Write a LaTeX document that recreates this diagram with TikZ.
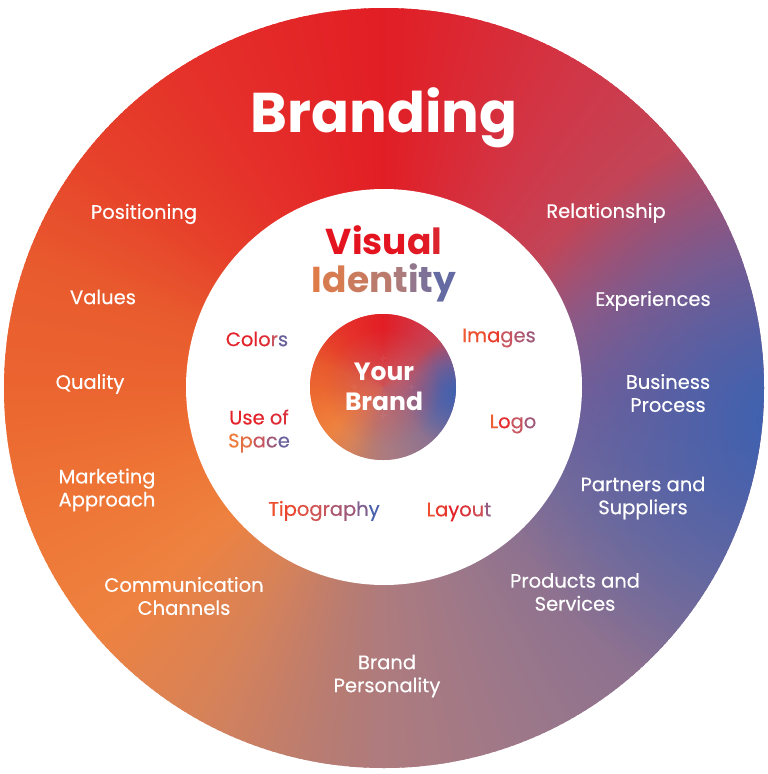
\documentclass[tikz,border=0pt]{standalone}
\usepackage{fontspec}
\setmainfont{Poppins}
\newfontfamily\labfont{Poppins}[FakeBold=0.35]
\usetikzlibrary{fadings}
% conic gradient stops
\definecolor{k000}{HTML}{865C8E}
\definecolor{k020}{HTML}{A0587C}
\definecolor{k040}{HTML}{C24558}
\definecolor{k060}{HTML}{D23545}
\definecolor{k090}{HTML}{E21E25}
\definecolor{k120}{HTML}{E5302A}
\definecolor{k140}{HTML}{E6402A}
\definecolor{k160}{HTML}{E85A2E}
\definecolor{k180}{HTML}{EB6530}
\definecolor{k200}{HTML}{EE7535}
\definecolor{k220}{HTML}{EE8240}
\definecolor{k240}{HTML}{D88258}
\definecolor{k260}{HTML}{B87C72}
\definecolor{k270}{HTML}{AE7B7E}
\definecolor{k290}{HTML}{9E7888}
\definecolor{k310}{HTML}{8E7290}
\definecolor{k330}{HTML}{806C96}
\definecolor{k345}{HTML}{7E6496}
\definecolor{vblue}{HTML}{3A62B2}
\definecolor{vred}{HTML}{E3141F}
\definecolor{vmauve}{HTML}{A07B87}
\definecolor{vorange}{HTML}{EE7B3A}
\definecolor{vcore}{HTML}{CC5A5C}
% text colours
\definecolor{cOr}{HTML}{EE7B3A}
\definecolor{cRO}{HTML}{EC4E2E}
\definecolor{cR}{HTML}{E3222A}
\definecolor{cPk}{HTML}{C8555F}
\definecolor{cMv}{HTML}{A05878}
\definecolor{cPu}{HTML}{80608F}
\definecolor{cBl}{HTML}{4A62AE}
\tikzfading[name=blob, inner color=transparent!0, outer color=transparent!100]
\newcommand\gdisk[4]{%
\begin{scope}[shift={(#1,#2)}, scale=#3/100]
 \begin{scope}
 \clip (0,0) circle[radius=100pt];
 \foreach \a in {0,1,...,359}{
  \foreach \s/\e/\ca/\cb in {0/20/k000/k020,20/40/k020/k040,40/60/k040/k060,60/90/k060/k090,
    90/120/k090/k120,120/140/k120/k140,140/160/k140/k160,160/180/k160/k180,180/200/k180/k200,
    200/220/k200/k220,220/240/k220/k240,240/260/k240/k260,260/270/k260/k270,270/290/k270/k290,
    290/310/k290/k310,310/330/k310/k330,330/345/k330/k345,345/360/k345/k000}{
   \ifnum\a<\s\relax\else\ifnum\a<\e\relax
    \pgfmathtruncatemacro\pp{100*(\e-\a)/(\e-\s)}
    \fill[\ca!\pp!\cb] (0,0) -- (-\a+0.3:106) -- (-\a-1.4:106) -- cycle;
   \fi\fi
  }
 }
 \fill[vblue, path fading=blob] (106,8) circle[radius=76pt];
 \fill[vcore, path fading=blob, opacity=#4] (0,0) circle[radius=80pt];
 \end{scope}
\end{scope}}
\newcommand\gc[2]{\textcolor{#1}{#2}}
\tikzset{
 lbl/.style={text=white, font=\labfont\fontsize{19.5}{23}\selectfont, align=center, inner sep=0pt},
 ilbl/.style={font=\labfont\fontsize{19.5}{23}\selectfont, align=center, inner sep=0pt},
}
\begin{document}
\begin{tikzpicture}[x=1pt,y=-1pt]
\useasboundingbox (0,0) rectangle (768,774);
\fill[white] (0,0) rectangle (768,774);
\gdisk{384}{388}{380}{0}
\fill[white] (384,387) circle[radius=198pt];
\gdisk{383}{387}{73}{0.85}

\node[text=white, font=\fontsize{56}{60}\selectfont\bfseries, inner sep=0pt] (branding) at (384,118) {Branding};

\node[lbl] (pos) at (144,214) {Positioning};
\node[lbl] (val) at (103,297) {Values};
\node[lbl] (qua) at (90,384) {Quality};
\node[lbl] (mkt) at (107,490) {Marketing\\Approach};
\node[lbl] (com) at (184,596) {Communication\\Channels};
\node[lbl] (per) at (387,676) {Brand\\Personality};
\node[lbl] (prd) at (575,592) {Products and\\Services};
\node[lbl] (prt) at (643,498) {Partners and\\Suppliers};
\node[lbl] (bus) at (668,393) {Business\\Process};
\node[lbl] (exp) at (653,301) {Experiences};
\node[lbl] (rel) at (606,213) {Relationship};

\node[font=\fontsize{36}{43}\selectfont\bfseries, inner sep=0pt] (vis) at (384,240)
 {\gc{vred}{V}\gc{vred}{i}\gc{vred}{s}\gc{vred}{u}\gc{vred!90!cPk}{a}\gc{vred!75!cPk}{l}};
\node[font=\fontsize{36}{43}\selectfont\bfseries, inner sep=0pt] (ide) at (384,283)
 {\gc{vorange!80!vmauve}{I}\gc{vorange!70!vmauve}{d}\gc{vorange!55!vmauve}{e}\gc{vorange!35!vmauve}{n}\gc{vorange!15!vmauve}{t}\gc{vmauve!85!cBl}{i}\gc{vmauve!60!cBl}{t}\gc{vmauve!30!cBl}{y}};

\node[text=white, font=\fontsize{25}{30}\selectfont\bfseries, align=center, inner sep=0pt] (yb) at (384,387) {Your\\Brand};

\node[ilbl] (col) at (257,339) {\gc{cR}{C}\gc{cR}{o}\gc{cR}{l}\gc{cR!80!cPk}{o}\gc{cPk}{r}\gc{cPu!60!cBl}{s}};
\node[ilbl] (img) at (499,338) {\gc{cRO!70!cOr}{I}\gc{cRO}{m}\gc{cRO!60!cR}{a}\gc{cPk}{g}\gc{cMv!60!cPk}{e}\gc{cMv}{s}};
\node[ilbl] (use) at (259,431) {\gc{cR}{Use }\gc{cR!80!cPk}{o}\gc{cR!70!cPk}{f}\\\gc{cOr}{S}\gc{cOr!70!cPk}{p}\gc{cPk}{a}\gc{cMv}{c}\gc{cPu!60!cBl}{e}};
\node[ilbl] (logo) at (513,424) {\gc{cRO!60!cOr}{L}\gc{cR!80!cRO}{o}\gc{cPk}{g}\gc{cMv}{o}};
\node[ilbl] (tip) at (324,511) {\gc{cRO}{T}\gc{cRO}{i}\gc{cRO!80!cR}{p}\gc{cRO!60!cPk}{o}\gc{cPk!80!cRO}{g}\gc{cPk}{r}\gc{cMv!70!cPk}{a}\gc{cMv}{p}\gc{cPu}{h}\gc{cBl}{y}};
\node[ilbl] (lay) at (459,512) {\gc{cRO}{L}\gc{cRO!50!cR}{a}\gc{cR}{y}\gc{cR!70!cPk}{o}\gc{cPk!80!cR}{u}\gc{cMv!60!cPu}{t}};
\end{tikzpicture}
\end{document}
